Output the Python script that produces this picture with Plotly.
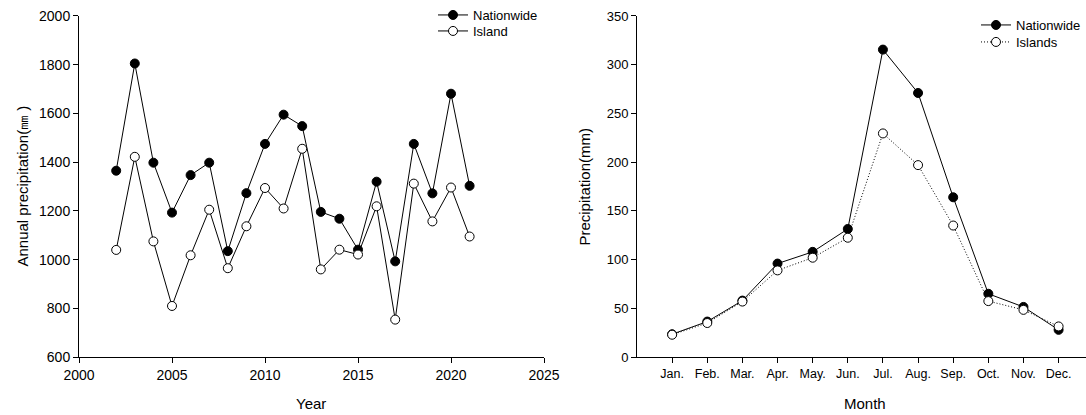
import plotly.graph_objects as go

years = list(range(2002, 2022))
nationwide_annual = [1365, 1805, 1398, 1193, 1347, 1398, 1035, 1273, 1475, 1595,
                     1548, 1196, 1168, 1041, 1320, 993, 1475, 1272, 1681, 1303]
island_annual = [1040, 1422, 1075, 810, 1018, 1205, 965, 1137, 1294, 1210,
                 1455, 960, 1041, 1021, 1219, 754, 1312, 1157, 1296, 1095]

months = ["Jan.", "Feb.", "Mar.", "Apr.", "May.", "Jun.", "Jul.", "Aug.", "Sep.", "Oct.", "Nov.", "Dec."]
month_pos = list(range(1, 13))
nationwide_monthly = [23.5, 36.5, 58, 96, 108, 131.5, 315.5, 271, 164, 65, 51.5, 28]
islands_monthly = [23, 35, 57, 89, 102, 122.5, 229.5, 197, 135, 57.5, 48.5, 31.5]

FONT = "Liberation Sans, Arial, sans-serif"
black_marker = dict(symbol="circle", size=9, color="black", line=dict(color="black", width=1))
white_marker = dict(symbol="circle", size=9, color="white", line=dict(color="black", width=1))

fig = go.Figure()
fig.add_trace(go.Scatter(x=years, y=nationwide_annual, mode="lines+markers", name="Nationwide",
                         line=dict(color="black", width=1), marker=black_marker,
                         xaxis="x", yaxis="y", legend="legend"))
fig.add_trace(go.Scatter(x=years, y=island_annual, mode="lines+markers", name="Island",
                         line=dict(color="black", width=1), marker=white_marker,
                         xaxis="x", yaxis="y", legend="legend2"))
fig.add_trace(go.Scatter(x=month_pos, y=nationwide_monthly, mode="lines+markers", name="Nationwide",
                         line=dict(color="black", width=1), marker=black_marker,
                         xaxis="x2", yaxis="y2", legend="legend3"))
fig.add_trace(go.Scatter(x=month_pos, y=islands_monthly, mode="lines+markers", name="Islands",
                         line=dict(color="black", width=1, dash="1px,2px"), marker=white_marker,
                         xaxis="x2", yaxis="y2", legend="legend4"))

W, H = 1086, 415
ydom = [1 - 357 / H, 1 - 15 / H]


def axis_common(size):
    return dict(showline=True, linecolor="black", linewidth=1, ticks="outside", ticklen=5,
                tickcolor="black", showgrid=False, zeroline=False, automargin=False,
                tickfont=dict(family=FONT, size=size, color="black"))


def leg(xpx, toppx):
    return dict(x=xpx / W, y=1 - toppx / H, xanchor="left", yanchor="top", bgcolor="rgba(0,0,0,0)",
                font=dict(family=FONT, size=13), tracegroupgap=0, itemwidth=30)


fig.update_layout(
    width=W, height=H, margin=dict(l=0, r=0, t=0, b=0),
    paper_bgcolor="white", plot_bgcolor="white",
    font=dict(family=FONT, size=12, color="black"),
    xaxis=dict(domain=[79 / W, 544 / W], range=[2000, 2025], tickvals=[2000, 2005, 2010, 2015, 2020, 2025],
               anchor="y", **axis_common(14)),
    yaxis=dict(domain=ydom, range=[600, 2000], tickvals=list(range(600, 2001, 200)),
               anchor="x", **axis_common(14)),
    xaxis2=dict(domain=[637 / W, 1.0], range=[0, 12.78], tickvals=month_pos, ticktext=months,
                anchor="y2", **axis_common(12.5)),
    yaxis2=dict(domain=ydom, range=[0, 350], tickvals=list(range(0, 351, 50)),
                anchor="x2", **axis_common(13)),
    showlegend=True,
    legend=leg(433, -1),
    legend2=leg(433, 16),
    legend3=leg(976, 10),
    legend4=leg(976, 27),
    annotations=[
        dict(text="Year", x=311 / W, y=1 - 403 / H, xref="paper", yref="paper",
             xanchor="center", yanchor="middle",
             showarrow=False, font=dict(family=FONT, size=15)),
        dict(text="Annual precipitation(㎜ )", x=23 / W, y=1 - 186 / H, xref="paper", yref="paper",
             xanchor="center", yanchor="middle",
             showarrow=False, textangle=-90, font=dict(family=FONT, size=15)),
        dict(text="Month", x=865 / W, y=1 - 403 / H, xref="paper", yref="paper",
             xanchor="center", yanchor="middle",
             showarrow=False, font=dict(family=FONT, size=15)),
        dict(text="Precipitation(mm)", x=585 / W, y=1 - 186 / H, xref="paper", yref="paper",
             xanchor="center", yanchor="middle",
             showarrow=False, textangle=-90, font=dict(family=FONT, size=15)),
    ],
)

fig.write_html("out.html")
